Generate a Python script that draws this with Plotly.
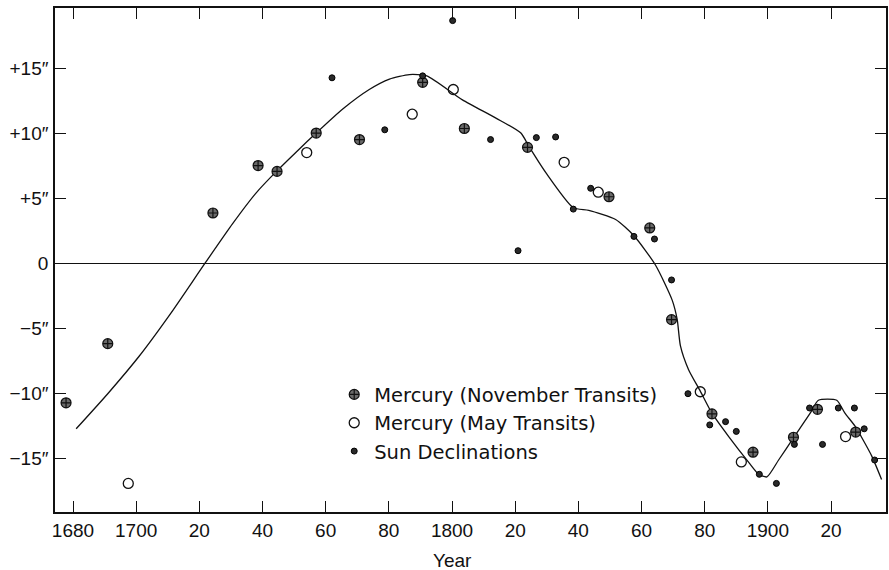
import plotly.graph_objects as go

# Mercury, November transits (year, offset in arc-seconds)
nov_year = [1677.8, 1691.0, 1724.3, 1738.6, 1744.6, 1757.0, 1770.7, 1790.7, 1803.9,
            1823.9, 1849.7, 1862.6, 1869.5, 1882.3, 1895.3, 1908.1, 1915.7, 1927.8]
nov_val = [-10.7, -6.15, 3.9, 7.55, 7.1, 10.05, 9.55, 13.95, 10.4,
           8.95, 5.15, 2.75, -4.3, -11.55, -14.5, -13.35, -11.2, -12.95]

# Mercury, May transits
may_year = [1697.5, 1754.0, 1787.4, 1800.4, 1835.5, 1846.3, 1878.6, 1891.6, 1924.6]
may_val = [-16.9, 8.55, 11.5, 13.4, 7.8, 5.5, -9.85, -15.25, -13.3]

# Sun declinations
sun_year = [1762.0, 1778.7, 1790.7, 1800.2, 1812.2, 1820.9, 1826.7, 1832.8, 1838.4,
            1843.9, 1857.6, 1864.1, 1869.5, 1874.7, 1881.6, 1886.6, 1890.0, 1897.3,
            1902.7, 1908.4, 1913.2, 1917.3, 1922.3, 1927.4, 1930.5, 1933.8]
sun_val = [14.3, 10.3, 14.45, 18.7, 9.55, 1.0, 9.7, 9.75, 4.2,
           5.8, 2.1, 1.9, -1.25, -10.0, -12.4, -12.15, -12.9, -16.2,
           -16.9, -13.9, -11.1, -13.9, -11.1, -11.1, -12.7, -15.1]

# Smoothed curve through the observations
curve_year = [1681.0, 1691.0, 1701.0, 1711.0, 1721.7, 1730.6, 1738.0, 1744.4, 1750.7,
              1757.0, 1765.4, 1773.8, 1780.2, 1786.5, 1792.0, 1803.3, 1813.9, 1821.8,
              1824.4, 1829.7, 1838.4, 1843.3, 1851.8, 1857.6, 1864.4, 1869.7, 1871.3,
              1872.3, 1874.9, 1878.6, 1882.3, 1887.6, 1894.0, 1897.1, 1899.7, 1903.4,
              1908.1, 1913.4, 1916.0, 1921.8, 1924.4, 1927.6, 1932.9, 1936.0]
curve_val = [-12.7, -10.0, -7.1, -3.8, 0.0, 3.1, 5.45, 7.1, 8.6,
             10.05, 11.9, 13.4, 14.2, 14.55, 14.45, 12.6, 11.2, 10.05,
             9.0, 7.0, 4.3, 4.1, 3.4, 2.15, -0.1, -2.8, -4.3,
             -6.3, -8.15, -9.8, -11.5, -13.3, -15.3, -16.2, -16.4, -15.1,
             -13.4, -11.5, -10.5, -10.5, -11.5, -12.5, -14.8, -16.6]

x_ticks = [1680, 1700, 1720, 1740, 1760, 1780, 1800, 1820, 1840, 1860, 1880, 1900, 1920]
x_labels = ["1680", "1700", "20", "40", "60", "80", "1800", "20", "40", "60", "80", "1900", "20"]
y_ticks = [-15, -10, -5, 0, 5, 10, 15]
y_labels = ["\u221215\u2033", "\u221210\u2033", "\u22125\u2033", "0", "+5\u2033", "+10\u2033", "+15\u2033"]

FONT = "Liberation Sans, Arial, Helvetica, sans-serif"
LEGEND_FONT = "DejaVu Sans, Verdana, sans-serif"

fig = go.Figure()

fig.add_trace(go.Scatter(
    x=curve_year, y=curve_val, mode="lines",
    line=dict(color="#111", width=1.3, shape="spline", smoothing=0.6),
    showlegend=False, hoverinfo="skip",
))

fig.add_trace(go.Scatter(
    x=nov_year, y=nov_val, mode="markers", name="Mercury (November Transits)",
    marker=dict(symbol="circle-cross", size=10, color="#6a6a6a",
                line=dict(color="#111", width=1.2)),
))
fig.add_trace(go.Scatter(
    x=may_year, y=may_val, mode="markers", name="Mercury (May Transits)",
    marker=dict(symbol="circle-open", size=10, color="#111", line=dict(width=1.3)),
))
fig.add_trace(go.Scatter(
    x=sun_year, y=sun_val, mode="markers", name="Sun Declinations",
    marker=dict(symbol="circle", size=6, color="#2a2a2a",
                line=dict(color="#000", width=1)),
))

axis_common = dict(
    showgrid=False, showline=True, linecolor="#111", linewidth=1.5,
    mirror="allticks", ticks="inside", ticklen=11, tickwidth=1.3, tickcolor="#111",
    tickfont=dict(family=FONT, size=19, color="#111"),
)

fig.update_xaxes(range=[1674.3, 1937.4], tickvals=x_ticks, ticktext=x_labels,
                 zeroline=False, **axis_common)
fig.update_yaxes(range=[-19.1, 19.67], tickvals=y_ticks, ticktext=y_labels,
                 zeroline=True, zerolinecolor="#111", zerolinewidth=1.3,
                 ticklabelstandoff=1, **axis_common)

fig.add_annotation(text="Year", x=1800, xref="x", y=-0.097, yref="paper",
                   showarrow=False, yanchor="middle",
                   font=dict(family=FONT, size=19, color="#111"))

fig.update_layout(
    width=889, height=570,
    margin=dict(l=55, r=1, t=8, b=58),
    paper_bgcolor="white", plot_bgcolor="white",
    legend=dict(x=0.336, y=0.2714, xanchor="left", yanchor="top",
                bgcolor="rgba(0,0,0,0)",
                font=dict(family=LEGEND_FONT, size=19.5, color="#111"),
                itemsizing="trace"),
)

fig.write_html("out.html")
